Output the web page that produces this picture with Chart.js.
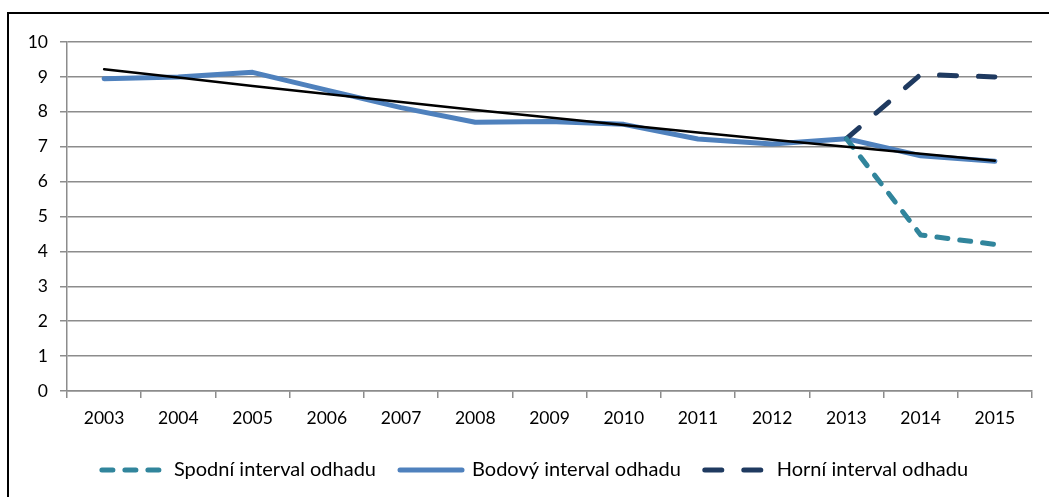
<!DOCTYPE html>
<html>
<head>
<meta charset="utf-8">
<script src="https://cdn.jsdelivr.net/npm/chart.js@4.4.1/dist/chart.umd.min.js"></script>
<style>
  html, body { margin:0; padding:0; background:#fff; }
  #wrap { width:1049px; height:497px; }
</style>
</head>
<body>
<div id="wrap"><canvas id="odhadChart" width="1049" height="497"></canvas></div>
<script>
// ── Data ──────────────────────────────────────────────────────
const years   = ['2003','2004','2005','2006','2007','2008','2009','2010','2011','2012','2013','2014','2015'];
const bodovy  = [8.95, 9.00, 9.13, 8.62, 8.12, 7.70, 7.72, 7.64, 7.22, 7.08, 7.23, 6.74, 6.58];
const spodni  = [null, null, null, null, null, null, null, null, null, null, 7.23, 4.47, 4.20];
const horni   = [null, null, null, null, null, null, null, null, null, null, 7.23, 9.07, 9.00];
const trend   = [9.22, 8.98, 8.74, 8.51, 8.28, 8.05, 7.84, 7.62, 7.41, 7.20, 7.00, 6.80, 6.60];
const yTicks  = [0, 10, 1]; // min, max, step

const GRID = '#8c8c8c';
const TICK_FONT   = { family:'Lato', size:17.5 };
const LEGEND_FONT = { family:'Lato', size:20 };

// frame round the whole chart (runs off to the right and bottom)
const framePlugin = {
  id:'frame',
  afterLayout(chart) {
    // legend sits a bit right of the canvas centre in the original
    chart.legend.left  += 9;
    chart.legend.right += 9;
  },
  afterDraw(chart) {
    const c = chart.ctx;
    c.save();
    c.strokeStyle = '#000';
    c.lineWidth = 2;
    c.strokeRect(8, 13, 1200, 600);
    c.restore();
  }
};

const ds = (label, data, color, width, dash, order) => ({
  label, data,
  borderColor:color, backgroundColor:color,
  borderWidth:width, borderDash:dash,
  borderCapStyle:'round', borderJoinStyle:'round',
  pointRadius:0, pointHoverRadius:0, tension:0, fill:false, order
});

const legendLabels = chart =>
  Chart.defaults.plugins.legend.labels.generateLabels(chart).map(l => {
    const d = chart.data.datasets[l.datasetIndex];
    return { ...l, lineDash:d.borderDash, lineWidth:d.borderWidth, strokeStyle:d.borderColor, lineCap:'round', fontColor:'#000' };
  });

new Chart(document.getElementById('odhadChart'), {
  type:'line',
  data:{
    labels:years,
    datasets:[
      ds('Spodní interval odhadu', spodni, '#31859c', 5, [11,12], 1),
      ds('Bodový interval odhadu', bodovy, '#4f81bd', 5, [], 2),
      ds('Horní interval odhadu',  horni,  '#1f3a60', 5, [17,22], 1),
      ds('trend', trend, '#000000', 2.5, [], 0)
    ]
  },
  plugins:[framePlugin],
  options:{
    responsive:false, animation:false,
    layout:{ padding:{ left:20, right:17, top:42, bottom:7 } },
    plugins:{
      tooltip:{ enabled:false },
      legend:{
        position:'bottom',
        labels:{
          font:LEGEND_FONT, color:'#000',
          usePointStyle:true, pointStyle:'line', pointStyleWidth:62,
          padding:24,
          generateLabels:legendLabels,
          filter: item => item.text !== 'trend',
          sort: (a, b) => a.datasetIndex - b.datasetIndex
        }
      }
    },
    scales:{
      x:{
        offset:true,
        grid:{ offset:true, drawOnChartArea:false, drawTicks:true, tickLength:7, color:GRID, lineWidth:1.5 },
        border:{ display:true, color:GRID, width:1.5 },
        ticks:{ font:TICK_FONT, color:'#000', padding:10, maxRotation:0, autoSkip:false },
        afterFit: s => { s.height = 45; }
      },
      y:{
        min:yTicks[0], max:yTicks[1],
        grid:{ color:GRID, lineWidth:1.5, drawTicks:true, tickLength:7 },
        border:{ display:true, color:GRID, width:1.5 },
        ticks:{ stepSize:yTicks[2], font:TICK_FONT, color:'#000', padding:12 },
        afterFit: s => { s.width = 47; }
      }
    }
  }
});
</script>
</body>
</html>
